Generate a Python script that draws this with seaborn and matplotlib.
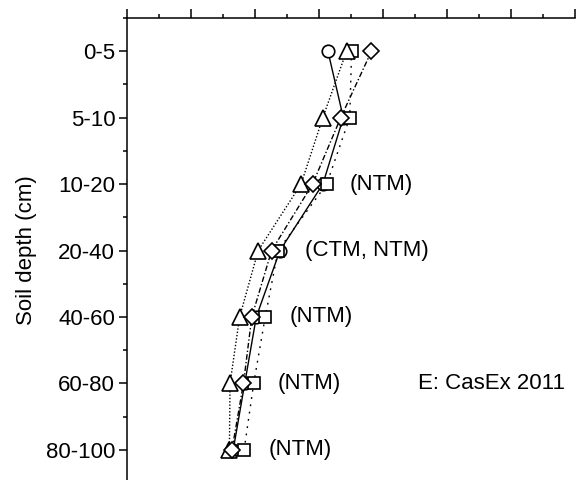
import matplotlib
matplotlib.use("Agg")
import matplotlib.pyplot as plt
from matplotlib.ticker import MultipleLocator
import pandas as pd
import seaborn as sns

sns.set_theme(style="white")
plt.rcParams["font.family"] = ["Liberation Sans", "DejaVu Sans"]
plt.rcParams["text.color"] = "black"
plt.rcParams["axes.labelcolor"] = "black"
plt.rcParams["xtick.color"] = "black"
plt.rcParams["ytick.color"] = "black"

depths = ["0-5", "5-10", "10-20", "20-40", "40-60", "60-80", "80-100"]
circle_vals = [15.7, 16.9, 15.3, 11.95, 10.1, 9.2, 8.3]
triangle_vals = [17.15, 15.3, 13.6, 10.25, 8.8, 8.05, 8.0]
square_vals = [17.55, 17.4, 15.6, 11.8, 10.8, 9.9, 9.15]
diamond_vals = [19.1, 16.7, 14.5, 11.3, 9.75, 9.1, 8.2]

sig_labels = ["", "", "(NTM)", "(CTM, NTM)", "(NTM)", "(NTM)", "(NTM)"]
sig_x = [0, 0, 17.4, 13.9, 12.7, 11.8, 11.1]
panel_label = "E: CasEx 2011"

series = [
    ("circle", circle_vals, "o", "-", 9.0),
    ("square", square_vals, "s", (0, (1.3, 4.0)), 9.0),
    ("triangle", triangle_vals, "^", (0, (1.0, 1.4)), 11.0),
    ("diamond", diamond_vals, "D", (0, (4.0, 1.6, 1.0, 1.6)), 8.5),
]

fig = plt.figure(figsize=(5.77, 4.8), dpi=100)
ax = fig.add_axes([0.2201, -0.0063, 0.7764, 0.9688])

for name, vals, marker, ls, ms in series:
    df = pd.DataFrame({"value": vals, "depth": depths})
    sns.lineplot(data=df, x="value", y="depth", orient="y", sort=False,
                 estimator=None, ax=ax, color="black", linewidth=1.0,
                 linestyle=ls, marker=marker, markersize=ms,
                 markerfacecolor="white", markeredgecolor="black",
                 markeredgewidth=1.2)

ax.set_xlim(0, 35)
ax.set_ylim(6.5, -0.5)
ax.xaxis.tick_top()
ax.xaxis.set_major_locator(MultipleLocator(5))
ax.xaxis.set_minor_locator(MultipleLocator(2.5))
ax.tick_params(axis="x", which="both", labeltop=False, labelbottom=False,
               top=True, bottom=False, direction="out", color="black")
ax.tick_params(axis="x", which="major", length=6.5, width=1.1)
ax.tick_params(axis="x", which="minor", length=3.0, width=1.1)

ax.set_yticks([i + 0.5 for i in range(-1, 6)], minor=True)
ax.tick_params(axis="y", which="both", left=True, direction="out",
               color="black", labelcolor="black", labelsize=16, pad=3)
ax.tick_params(axis="y", which="major", length=5.5, width=1.1)
ax.tick_params(axis="y", which="minor", length=3.0, width=1.1)

for side in ["right", "bottom"]:
    ax.spines[side].set_visible(False)
for side in ["top", "left"]:
    ax.spines[side].set_color("black")
    ax.spines[side].set_linewidth(1.1)

ax.set_xlabel("")
ax.set_ylabel("Soil depth (cm)", fontsize=16, labelpad=6, color="black")

for i, (lab, xv) in enumerate(zip(sig_labels, sig_x)):
    if lab:
        ax.text(xv, i, lab, fontsize=16, va="center", ha="left", color="black")

ax.text(22.7, 5.0, panel_label, fontsize=16, va="center", ha="left",
        color="black")

fig.savefig("out.png", dpi=100)
